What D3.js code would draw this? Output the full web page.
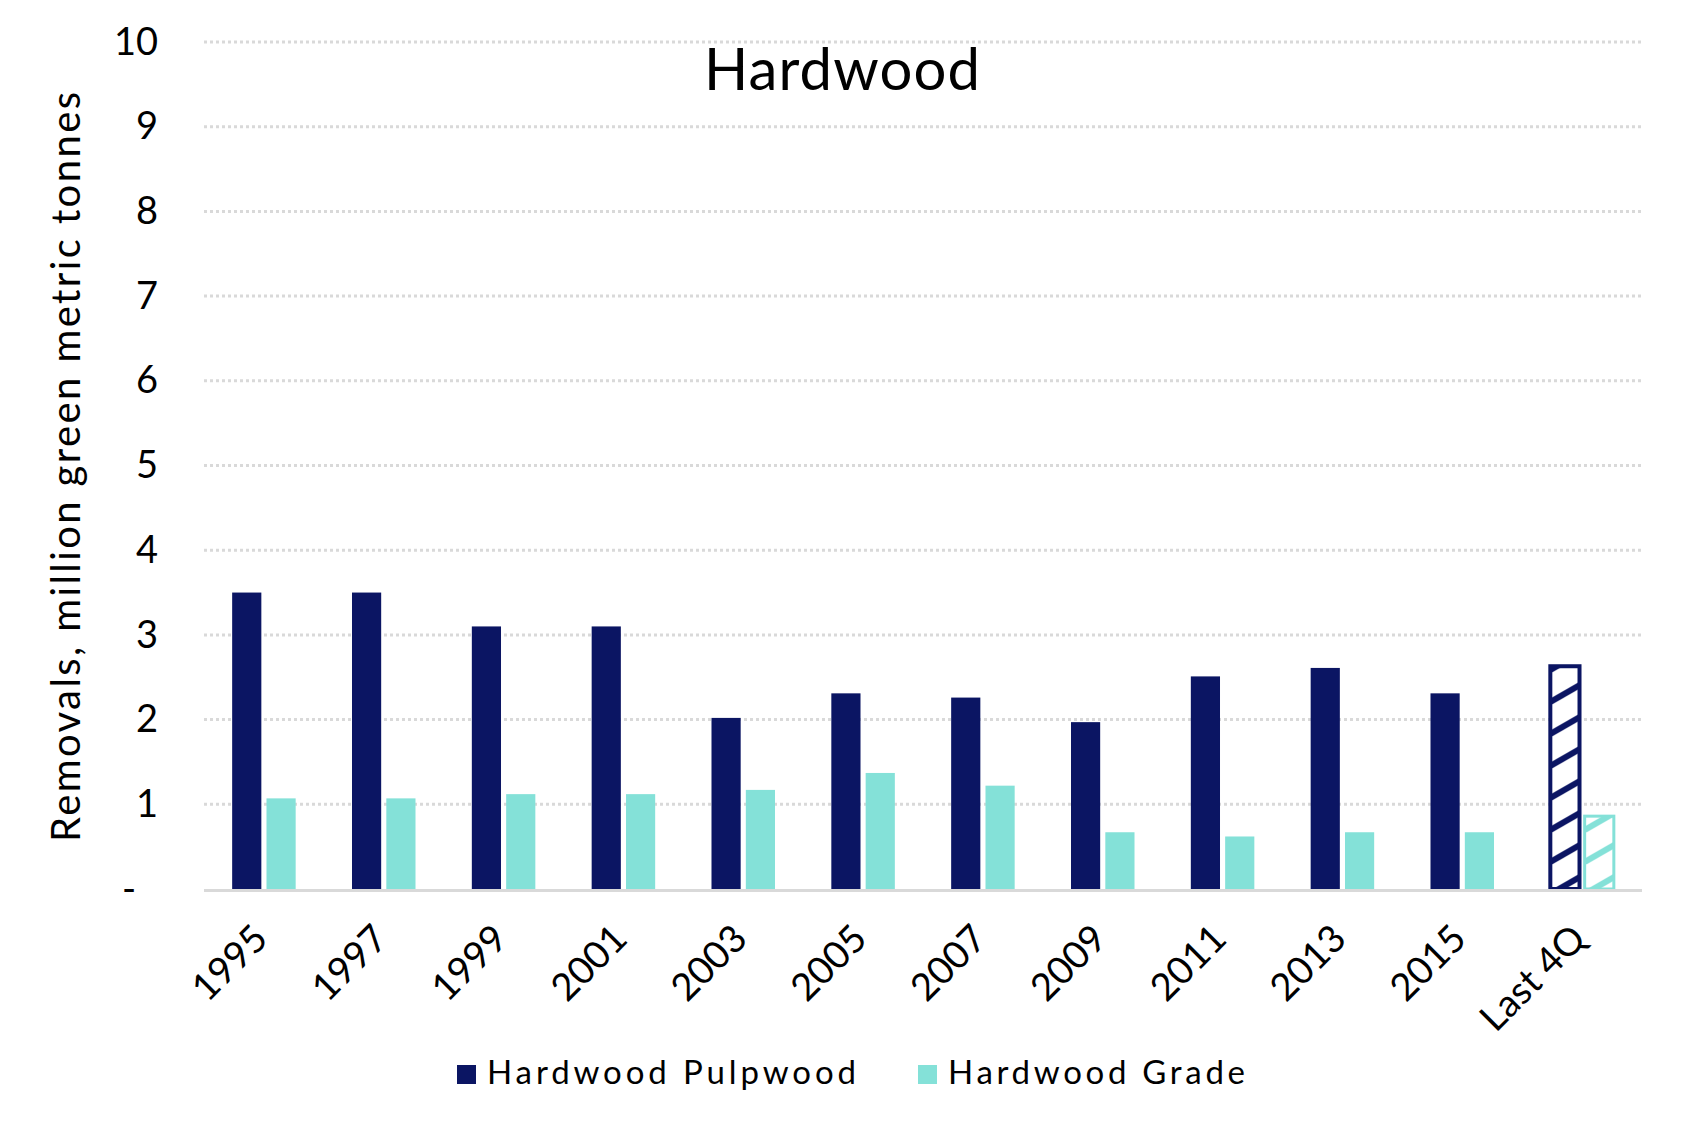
<!DOCTYPE html>
<html>
<head>
<meta charset="utf-8">
<script src="https://cdn.jsdelivr.net/npm/d3@7"></script>
<style>
  html, body { margin: 0; padding: 0; background: #ffffff; }
  svg { display: block; font-family: Lato, "Open Sans", sans-serif; }
</style>
</head>
<body>
<div id="chart"></div>
<script>
// ---- data ----
const categories = ["1995", "1997", "1999", "2001", "2003", "2005", "2007", "2009", "2011", "2013", "2015", "Last 4Q"];
const pulpwood = [3.50, 3.50, 3.10, 3.10, 2.02, 2.31, 2.26, 1.97, 2.51, 2.61, 2.31, 2.63];
const grade = [1.07, 1.07, 1.12, 1.12, 1.17, 1.37, 1.22, 0.67, 0.62, 0.67, 0.67, 0.86];
const seriesNames = ["Hardwood Pulpwood", "Hardwood Grade"];
const hatchedCategories = ["Last 4Q"];
const yTickValues = [0, 1, 2, 3, 4, 5, 6, 7, 8, 9, 10];
const yTickLabels = ["-", "1", "2", "3", "4", "5", "6", "7", "8", "9", "10"];
const titleText = "Hardwood";
const yAxisTitle = "Removals, million green metric tonnes";

// ---- styles ----
const colors = ["#0B1563", "#84E1D8"];
const W = 1692, H = 1134;
const plot = { left: 204, right: 1642, top: 42, bottom: 889 };

const svg = d3.select("#chart").append("svg").attr("width", W).attr("height", H);

const x0 = d3.scaleBand().domain(categories).range([plot.left, plot.right])
  .paddingInner(0.47).paddingOuter(0.235);
const x1 = d3.scaleBand().domain(seriesNames).range([0, x0.bandwidth()]).paddingInner(0.15);
const y = d3.scaleLinear().domain([0, 10]).range([plot.bottom, plot.top]);

const seriesValues = [pulpwood, grade];
const rows = [];
categories.forEach((c, i) => {
  seriesNames.forEach((s, j) => rows.push({ cat: c, series: s, si: j, value: seriesValues[j][i], hatched: hatchedCategories.includes(c) }));
});

// gridlines
svg.append("g").selectAll("line").data(yTickValues.filter(v => v > 0)).join("line")
  .attr("x1", plot.left).attr("x2", plot.right)
  .attr("y1", d => y(d)).attr("y2", d => y(d))
  .attr("stroke", "#D9D9D9").attr("stroke-width", 3).attr("stroke-dasharray", "3,3");

// hatch patterns (one per hatched bar, aligned to the bar)
const defs = svg.append("defs");
rows.filter(r => r.hatched).forEach((r) => {
  const bx = x0(r.cat) + x1(r.series);
  const pat = defs.append("pattern")
    .attr("id", "hatch" + r.si)
    .attr("patternUnits", "userSpaceOnUse")
    .attr("x", bx).attr("y", 0)
    .attr("width", 80).attr("height", 32);
  pat.append("rect").attr("width", 80).attr("height", 32).attr("fill", "#ffffff");
  for (let kk = -3; kk <= 3; kk++) {
    pat.append("line")
      .attr("x1", 0).attr("y1", 30 + kk * 32)
      .attr("x2", 80).attr("y2", 30 - 46 + kk * 32)
      .attr("stroke", colors[r.si]).attr("stroke-width", 6);
  }
});

// bars
svg.append("g").selectAll("rect").data(rows).join("rect")
  .attr("x", d => x0(d.cat) + x1(d.series))
  .attr("width", x1.bandwidth())
  .attr("y", d => y(d.value))
  .attr("height", d => y(0) - y(d.value))
  .attr("fill", d => d.hatched ? `url(#hatch${d.si})` : colors[d.si])
  .attr("stroke", d => d.hatched ? colors[d.si] : "none")
  .attr("stroke-width", d => d.si === 0 ? 4 : 3);

// baseline
svg.append("line")
  .attr("x1", plot.left).attr("x2", plot.right)
  .attr("y1", y(0) + 1.5).attr("y2", y(0) + 1.5)
  .attr("stroke", "#D9D9D9").attr("stroke-width", 3);

// y axis
const yAxis = svg.append("g").attr("transform", `translate(${plot.left},0)`)
  .call(d3.axisLeft(y).tickValues(yTickValues).tickSize(0).tickPadding(46)
    .tickFormat((d, i) => yTickLabels[i]));
yAxis.select(".domain").remove();
yAxis.selectAll("text")
  .attr("font-family", "Lato, sans-serif")
  .attr("font-size", 38).attr("fill", "#000")
  .attr("dx", d => d === 0 ? -22 : 0);

// x axis
const xAxis = svg.append("g").attr("transform", `translate(0,${plot.bottom})`)
  .call(d3.axisBottom(x0).tickSize(0).tickPadding(0));
xAxis.select(".domain").remove();
xAxis.selectAll(".tick text")
  .attr("font-family", "Lato, sans-serif")
  .attr("font-size", 38).attr("fill", "#000")
  .attr("text-anchor", "end")
  .attr("dy", 0).attr("y", 0)
  .attr("transform", "translate(6,52) rotate(-45)");

// title
svg.append("text").attr("x", 842).attr("y", 90)
  .attr("text-anchor", "middle")
  .attr("font-family", "Lato, sans-serif").attr("font-size", 58).attr("fill", "#000")
  .attr("textLength", 276).attr("lengthAdjust", "spacing")
  .text(titleText);

// y axis title
svg.append("text")
  .attr("transform", `translate(80,467) rotate(-90)`)
  .attr("text-anchor", "middle")
  .attr("font-family", "Lato, sans-serif").attr("font-size", 40).attr("fill", "#000")
  .attr("textLength", 750).attr("lengthAdjust", "spacing")
  .text(yAxisTitle);

// legend
const legendX = [457, 918];
const legendW = [369, 297];
const lg = svg.append("g").selectAll("g").data(seriesNames).join("g")
  .attr("transform", (d, i) => `translate(${legendX[i]},1065)`);
lg.append("rect").attr("width", 19).attr("height", 19).attr("fill", (d, i) => colors[i]);
lg.append("text").attr("x", 30).attr("y", 19)
  .attr("font-family", "Lato, sans-serif").attr("font-size", 33).attr("fill", "#000")
  .attr("textLength", (d, i) => legendW[i]).attr("lengthAdjust", "spacing")
  .text(d => d);
</script>
</body>
</html>
